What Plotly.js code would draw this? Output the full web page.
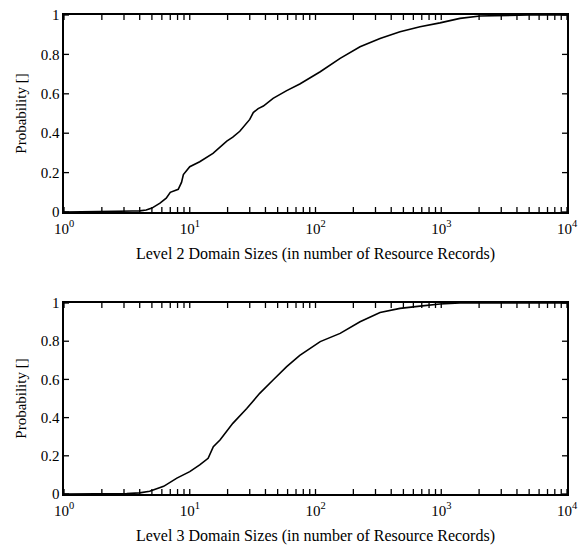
<!DOCTYPE html>
<html>
<head>
<meta charset="utf-8">
<script src="https://cdn.plot.ly/plotly-3.0.1.min.js"></script>
<style>html,body{margin:0;padding:0;background:#fff}#plot{width:580px;height:549px}</style>
</head>
<body>
<div id="plot"></div>
<script>
// Level 2 domain sizes CDF
const level2Sizes = [1, 2, 3, 3.5, 4, 4.5, 5, 5.8, 6.5, 7.0, 8.1, 8.6, 8.9, 10, 12, 15.3, 19.7, 22, 25, 28.4, 30, 32, 35, 38.5, 46, 59, 75, 109, 157, 226, 326, 470, 678, 977, 1409, 2032, 3000, 5000, 10000];
const level2Prob  = [0, 0.001, 0.004, 0.005, 0.006, 0.01, 0.02, 0.045, 0.07, 0.10, 0.115, 0.15, 0.19, 0.23, 0.255, 0.298, 0.36, 0.38, 0.41, 0.45, 0.47, 0.505, 0.525, 0.538, 0.577, 0.616, 0.65, 0.712, 0.78, 0.839, 0.881, 0.915, 0.94, 0.96, 0.983, 0.995, 0.998, 1.0, 1.0];
// Level 3 domain sizes CDF
const level3Sizes = [1, 2, 3.15, 4, 4.8, 6.2, 7.9, 10, 12, 14, 15.4, 17.4, 22, 28.4, 36, 46, 59, 75, 109, 157, 226, 326, 470, 678, 977, 1409, 3000, 10000];
const level3Prob  = [0, 0.0, 0.002, 0.006, 0.014, 0.04, 0.083, 0.117, 0.152, 0.187, 0.248, 0.283, 0.37, 0.448, 0.527, 0.597, 0.667, 0.726, 0.798, 0.841, 0.902, 0.95, 0.972, 0.984, 0.995, 1.0, 1.0, 1.0];

const xDecades = [1, 10, 100, 1000, 10000];
const xDecadeText = ['10<sup>0</sup>', '10<sup>1</sup>', '10<sup>2</sup>', '10<sup>3</sup>', '10<sup>4</sup>'];
// tick marks: decades and their 2..9 multiples
const xTickMarks = [];
xDecades.forEach(d => {
  xTickMarks.push(d);
  if (d < 10000) for (let k = 2; k <= 9; k++) xTickMarks.push(d * k);
});
const yTickVals = [0, 0.2, 0.4, 0.6, 0.8, 1];
const yTickText = ['0', '0.2', '0.4', '0.6', '0.8', '1'];
const xTitleTop = 'Level 2 Domain Sizes (in number of Resource Records)';
const xTitleBottom = 'Level 3 Domain Sizes (in number of Resource Records)';
const yTitle = 'Probability []';

const fontFam = 'Liberation Serif, Times New Roman, serif';
const lineStyle = {color: '#000', width: 1.6};
const tickLine = {color: '#000', width: 1.3};
const tickLen = 5;

const traces = [
  {x: level2Sizes, y: level2Prob, xaxis: 'x', yaxis: 'y', mode: 'lines', line: lineStyle, hoverinfo: 'skip'},
  {x: level3Sizes, y: level3Prob, xaxis: 'x2', yaxis: 'y2', mode: 'lines', line: lineStyle, hoverinfo: 'skip'}
];

const axisLine = {showline: true, linecolor: '#000', linewidth: 1.6, showgrid: false, zeroline: false, mirror: true, ticks: ''};

function xAxis(title, anchor) {
  return Object.assign({
    type: 'log', range: [0, 4], anchor: anchor,
    tickmode: 'array', tickvals: xDecades, ticktext: xDecadeText,
    ticklabelstandoff: 2,
    tickfont: {family: fontFam, size: 15, color: '#000'},
    title: {text: title, font: {family: fontFam, size: 16, color: '#000'}, standoff: 12}
  }, axisLine);
}
function yAxis(domain, anchor) {
  return Object.assign({
    domain: domain, range: [0, 1], anchor: anchor,
    tickmode: 'array', tickvals: yTickVals, ticktext: yTickText,
    tickfont: {family: fontFam, size: 15, color: '#000'},
    title: {text: yTitle, font: {family: fontFam, size: 15, color: '#000'}, standoff: 10}
  }, axisLine);
}

// inward tick marks on all four sides, placed through the axes' own scales
function tickShapes(xr, yr) {
  const s = [];
  xTickMarks.forEach(v => {
    s.push({type: 'line', xref: xr, yref: yr + ' domain', ysizemode: 'pixel', yanchor: 0, x0: v, x1: v, y0: 0, y1: tickLen, line: tickLine});
    s.push({type: 'line', xref: xr, yref: yr + ' domain', ysizemode: 'pixel', yanchor: 1, x0: v, x1: v, y0: 0, y1: -tickLen, line: tickLine});
  });
  yTickVals.forEach(v => {
    s.push({type: 'line', xref: xr + ' domain', yref: yr, xsizemode: 'pixel', xanchor: 0, x0: 0, x1: tickLen, y0: v, y1: v, line: tickLine});
    s.push({type: 'line', xref: xr + ' domain', yref: yr, xsizemode: 'pixel', xanchor: 1, x0: 0, x1: -tickLen, y0: v, y1: v, line: tickLine});
  });
  return s;
}

const layout = {
  width: 580, height: 549,
  margin: {l: 64, r: 13, t: 15, b: 55},
  paper_bgcolor: '#fff', plot_bgcolor: '#fff',
  showlegend: false,
  xaxis: xAxis(xTitleTop, 'y'),
  yaxis: yAxis([0.5887, 1], 'x'),
  xaxis2: xAxis(xTitleBottom, 'y2'),
  yaxis2: yAxis([0, 0.3987], 'x2'),
  shapes: tickShapes('x', 'y').concat(tickShapes('x2', 'y2'))
};

Plotly.newPlot('plot', traces, layout, {staticPlot: true, displayModeBar: false});
</script>
</body>
</html>
